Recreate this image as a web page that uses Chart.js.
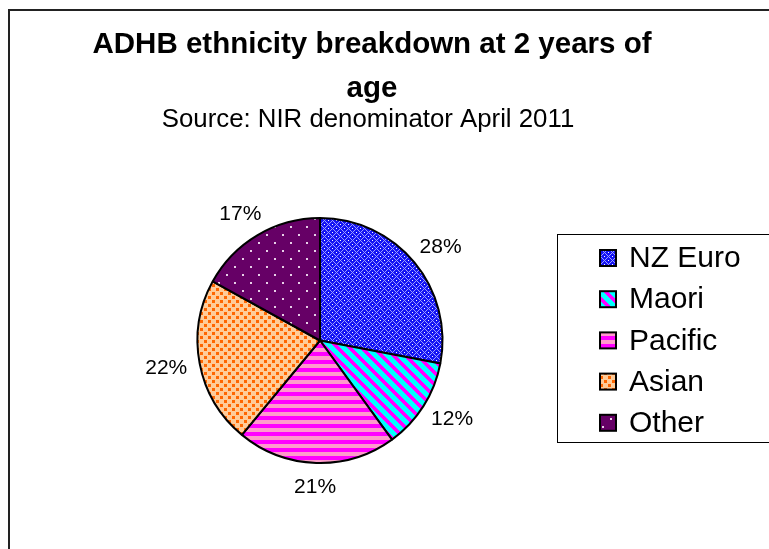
<!DOCTYPE html>
<html>
<head>
<meta charset="utf-8">
<script src="https://cdn.jsdelivr.net/npm/chart.js@4"></script>
<style>
  body { margin: 0; background: #fff; overflow: hidden; }
</style>
</head>
<body>
<canvas id="ethnicityChart" width="769" height="549"></canvas>
<script>
// data
const categories = ["NZ Euro", "Maori", "Pacific", "Asian", "Other"];
const shares = [28, 12, 21, 22, 17];
const titleLines = ["ADHB ethnicity breakdown at 2 years of", "age"];
const subtitleText = "Source: NIR denominator April 2011";

// make a small tile and turn it into a canvas pattern
function makePattern(size, drawTile) {
    const c = document.createElement("canvas");
    c.width = size;
    c.height = size;
    const g = c.getContext("2d");
    drawTile(g, size);
    return g.createPattern(c, "repeat");
}

const ctx = document.getElementById("ethnicityChart").getContext("2d");

const patterns = [
    // NZ Euro - blue with light diamond lattice
    makePattern(8, (g, s) => {
        g.fillStyle = "#1414F4";
        g.fillRect(0, 0, s, s);
        g.fillStyle = "#9C9CFF";
        for (let y = 0; y < s; y++) {
            for (let x = 0; x < s; x++) {
                if ((x + y) % s === 0 || ((x - y) + s) % s === 0) g.fillRect(x, y, 1, 1);
            }
        }
        g.fillStyle = "#FFFFFF";
        g.fillRect(4, 0, 1, 1);
        g.fillRect(0, 4, 1, 1);
    }),
    // Maori - cyan / magenta diagonal stripes
    makePattern(12, (g, s) => {
        g.fillStyle = "#00FFFF";
        g.fillRect(0, 0, s, s);
        g.fillStyle = "#FF00FF";
        for (let y = 0; y < s; y++) {
            for (let x = 0; x < s; x++) {
                if (((x - y) % s + s) % s < 5) g.fillRect(x, y, 1, 1);
            }
        }
    }),
    // Pacific - magenta / pink horizontal stripes
    makePattern(8, (g, s) => {
        g.fillStyle = "#FF00FF";
        g.fillRect(0, 0, s, s);
        g.fillStyle = "#FF99CC";
        g.fillRect(0, 4, s, 4);
    }),
    // Asian - light orange with orange squares
    makePattern(8, (g, s) => {
        g.fillStyle = "#FFCC99";
        g.fillRect(0, 0, s, s);
        g.fillStyle = "#FF6600";
        g.fillRect(0, 0, 3, 3);
        g.fillRect(4, 4, 3, 3);
    }),
    // Other - dark purple with sparse white dots
    makePattern(16, (g, s) => {
        g.fillStyle = "#660066";
        g.fillRect(0, 0, s, s);
        g.fillStyle = "#E8D0E8";
        g.fillRect(2, 2, 2, 2);
        g.fillRect(10, 10, 2, 2);
    }),
];

const FONT = "'Liberation Sans', Arial, sans-serif";

// frame, titles, outside percentage labels and legend box
const decorations = {
    id: "decorations",
    beforeDraw(chart) {
        const c = chart.ctx;
        c.save();
        c.fillStyle = "#fff";
        c.fillRect(0, 0, chart.width, chart.height);
        c.strokeStyle = "#222";
        c.lineWidth = 2;
        c.beginPath();
        c.moveTo(9, chart.height);
        c.lineTo(9, 10);
        c.lineTo(chart.width, 10);
        c.stroke();

        c.fillStyle = "#000";
        c.textAlign = "center";
        c.textBaseline = "alphabetic";
        c.font = "bold 29.5px " + FONT;
        c.fillText(titleLines[0], 372, 53);
        c.fillText(titleLines[1], 372, 97);
        c.font = "25.8px " + FONT;
        c.fillText(subtitleText, 368, 127);
        c.restore();
    },
    afterDraw(chart) {
        const c = chart.ctx;
        const meta = chart.getDatasetMeta(0);
        const values = chart.data.datasets[0].data;
        const total = values.reduce((a, b) => a + b, 0);
        c.save();
        c.fillStyle = "#000";
        c.font = "21px " + FONT;
        c.textAlign = "center";
        c.textBaseline = "middle";
        meta.data.forEach((arc, i) => {
            const mid = (arc.startAngle + arc.endAngle) / 2;
            // labels sit just outside the rim, a bit wider sideways
            const rx = arc.outerRadius + 34;
            const ry = arc.outerRadius + 24;
            const pct = Math.round(values[i] / total * 100) + "%";
            c.fillText(pct, arc.x + Math.cos(mid) * rx, arc.y + Math.sin(mid) * ry);
        });

        // legend
        const boxLeft = 557, boxTop = 234, boxBottom = 442;
        c.strokeStyle = "#000";
        c.lineWidth = 1;
        c.strokeRect(boxLeft + 0.5, boxTop + 0.5, chart.width, boxBottom - boxTop);
        c.font = "30px " + FONT;
        c.textAlign = "left";
        chart.data.labels.forEach((label, i) => {
            const cy = 258 + i * 41.2;
            c.fillStyle = chart.data.datasets[0].backgroundColor[i];
            c.fillRect(600, cy - 8, 16, 16);
            c.lineWidth = 2;
            c.strokeRect(600, cy - 8, 16, 16);
            c.fillStyle = "#000";
            c.fillText(label, 629, cy + 1);
        });
        c.restore();
    },
};

new Chart(ctx, {
    type: "pie",
    data: {
        labels: categories,
        datasets: [
            {
                data: shares,
                backgroundColor: patterns,
                borderColor: "#000",
                borderWidth: 2,
            },
        ],
    },
    options: {
        responsive: false,
        animation: false,
        layout: {
            padding: { left: 196, right: 325, top: 217, bottom: 85 },
        },
        plugins: {
            legend: { display: false },
            title: { display: false },
            tooltip: { enabled: false },
        },
    },
    plugins: [decorations],
});
</script>
</body>
</html>
